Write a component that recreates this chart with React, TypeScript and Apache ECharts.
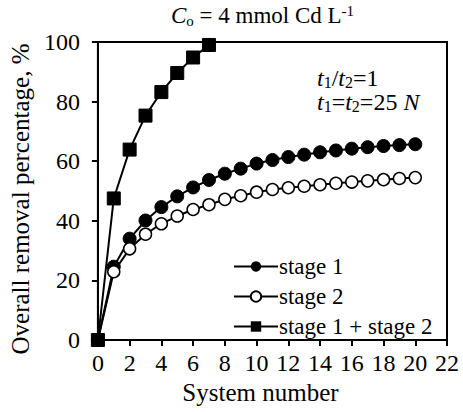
import React, { useEffect, useRef } from "react";
import * as echarts from "echarts";

const systemNumbers = [0, 1, 2, 3, 4, 5, 6, 7, 8, 9, 10, 11, 12, 13, 14, 15, 16, 17, 18, 19, 20];
const stage1 = [0, 24.6, 34.0, 40.1, 44.6, 48.2, 51.2, 53.7, 55.8, 57.5, 59.2, 60.4, 61.4, 62.2, 63.0, 63.6, 64.2, 64.7, 65.1, 65.4, 65.7];
const stage2 = [0, 22.9, 30.6, 35.5, 39.0, 41.6, 43.8, 45.4, 47.2, 48.4, 49.6, 50.5, 51.1, 51.6, 52.1, 52.6, 53.0, 53.4, 53.8, 54.2, 54.5];
const stageBothX = [0, 1, 2, 3, 4, 5, 6, 7];
const stageBoth = [0, 47.5, 63.9, 75.3, 83.2, 89.6, 94.8, 99.0];

const FONT = "Liberation Serif";

export default function App() {
  const ref = useRef<HTMLDivElement>(null);
  useEffect(() => {
    if (!ref.current) return;
    const chart = echarts.init(ref.current, undefined, { renderer: "svg" });
    const lineStyle = { color: "#000", width: 2 };
    const ann = {
      i: { fontFamily: FONT, fontStyle: "italic", fontSize: 24, fill: "#000", lineHeight: 23 },
      sub: { fontFamily: FONT, fontSize: 16, fill: "#000", padding: [9, 0, 0, 0], lineHeight: 23 },
      n: { fontFamily: FONT, fontSize: 24, fill: "#000", lineHeight: 23 },
    };
    chart.setOption({
      animation: false,
      backgroundColor: "#fff",
      grid: {
        left: 96,
        right: 16,
        top: 42,
        bottom: 72,
        show: true,
        borderColor: "#000",
        borderWidth: 2,
        backgroundColor: "transparent",
      },
      xAxis: {
        type: "value",
        min: 0,
        max: 22,
        interval: 2,
        name: "System number",
        nameLocation: "middle",
        nameGap: 40,
        nameTextStyle: { fontFamily: FONT, fontSize: 25, color: "#000", padding: [0, 24, 0, 0] },
        axisLine: { lineStyle: { color: "#000", width: 2 } },
        axisTick: { show: true, inside: false, length: 6, lineStyle: { color: "#000", width: 2 } },
        axisLabel: { fontFamily: FONT, fontSize: 24, color: "#000", margin: 11 },
        splitLine: { show: false },
      },
      yAxis: {
        type: "value",
        min: 0,
        max: 100,
        interval: 20,
        name: "Overall removal percentage, %",
        nameLocation: "middle",
        nameGap: 64,
        nameTextStyle: { fontFamily: FONT, fontSize: 25, color: "#000", padding: [0, 16, 0, 0] },
        axisLine: { show: true, lineStyle: { color: "#000", width: 2 } },
        axisTick: { show: true, inside: false, length: 6, lineStyle: { color: "#000", width: 2 } },
        axisLabel: { fontFamily: FONT, fontSize: 24, color: "#000", margin: 18 },
        splitLine: { show: false },
      },
      legend: {
        orient: "vertical",
        left: 228,
        top: 249,
        itemWidth: 44,
        itemHeight: 13,
        itemGap: 5,
        textStyle: { fontFamily: FONT, fontSize: 23, lineHeight: 25, color: "#000", padding: [0, 0, 0, -4] },
        data: ["stage 1", "stage 2", "stage 1 + stage 2"],
      },
      graphic: [
        {
          type: "text",
          left: 171,
          top: 3,
          style: {
            text: "{i|C}{sub|o}{n| = 4 mmol Cd L}{sup|-1}",
            rich: {
              i: { fontFamily: FONT, fontStyle: "italic", fontSize: 23, fill: "#000", lineHeight: 28 },
              sub: { fontFamily: FONT, fontSize: 15, fill: "#000", padding: [10, 0, 0, 0], lineHeight: 28 },
              n: { fontFamily: FONT, fontSize: 23, fill: "#000", lineHeight: 28 },
              sup: { fontFamily: FONT, fontSize: 15, fill: "#000", padding: [0, 0, 10, 0], lineHeight: 28 },
            },
          },
        },
        {
          type: "text",
          left: 317,
          top: 65,
          style: {
            text: "{i|t}{sub|1}{n|/}{i|t}{sub|2}{n|=1}",
            rich: ann,
          },
        },
        {
          type: "text",
          left: 317,
          top: 89,
          style: {
            text: "{i|t}{sub|1}{n|=}{i|t}{sub|2}{n|=25 }{i|N}",
            rich: ann,
          },
        },
      ],
      series: [
        {
          name: "stage 1",
          type: "line",
          data: systemNumbers.map((x, i) => [x, stage1[i]]),
          symbol: "circle",
          symbolSize: 13,
          lineStyle,
          itemStyle: { color: "#000", borderColor: "#000" },
          z: 3,
        },
        {
          name: "stage 2",
          type: "line",
          data: systemNumbers.map((x, i) => [x, stage2[i]]),
          symbol: "circle",
          symbolSize: 12,
          showAllSymbol: true,
          lineStyle,
          itemStyle: { color: "#fff", borderColor: "#000", borderWidth: 1.5 },
          z: 4,
        },
        {
          name: "stage 1 + stage 2",
          type: "line",
          data: stageBothX.map((x, i) => [x, stageBoth[i]]),
          symbol: "rect",
          symbolSize: 13,
          lineStyle,
          itemStyle: { color: "#000", borderColor: "#000" },
          z: 5,
        },
      ],
    });
    return () => chart.dispose();
  }, []);
  return <div ref={ref} style={{ width: 463, height: 412, position: "absolute", left: 0, top: 0 }} />;
}
